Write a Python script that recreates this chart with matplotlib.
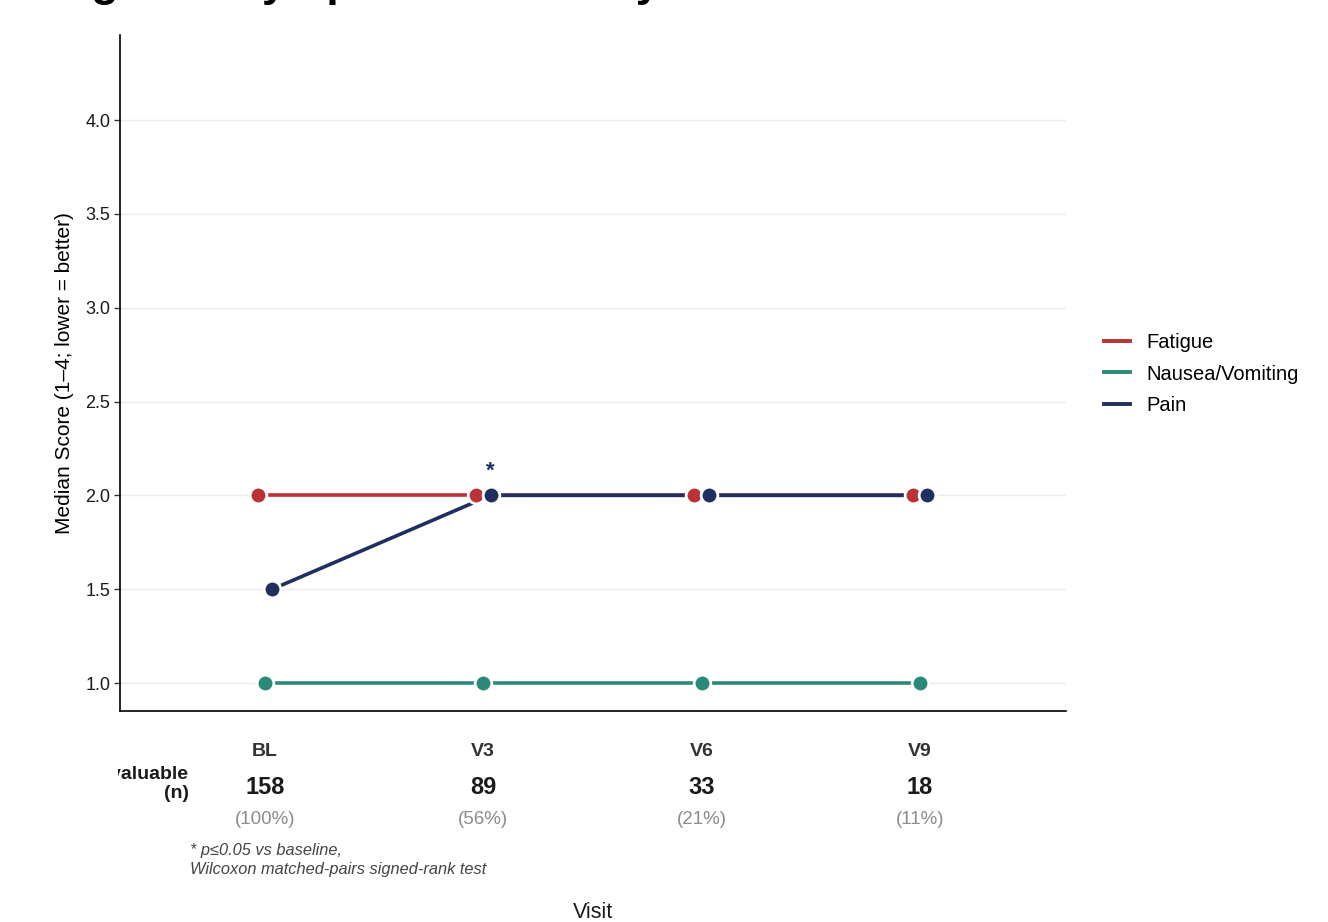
import matplotlib
matplotlib.use("Agg")
import matplotlib.pyplot as plt
from matplotlib.lines import Line2D
from matplotlib.transforms import Bbox
import numpy as np

plt.rcParams['font.family'] = ['Liberation Sans', 'DejaVu Sans']

# Data
visits = ["BL", "V3", "V6", "V9"]
fatigue = [2.0, 2.0, 2.0, 2.0]
nausea = [1.0, 1.0, 1.0, 1.0]
pain = [1.5, 2.0, 2.0, 2.0]
evaluable_n = [158, 89, 33, 18]
significant_pain = ["V3"]

series_names = ["Fatigue", "Nausea/Vomiting", "Pain"]
series_values = [fatigue, nausea, pain]
series_colors = ["#B93236", "#2B8A77", "#1F2F5F"]

W, H = 1328, 922
fig = plt.figure(figsize=(W / 100, H / 100), dpi=100)
ax = fig.add_axes([120 / W, 1 - 711 / H, (1066 - 120) / W, (711 - 35) / H])
panel_h = 711 - 35

x = np.arange(len(visits))
dodge = 0.1
offsets = [(i - (len(series_names) - 1) / 2) * dodge / 3 for i in range(len(series_names))]

# lines first, then points on top
for vals, col, off in zip(series_values, series_colors, offsets):
    ax.plot(x + off, vals, color=col, lw=2.6, zorder=2, solid_capstyle='butt')
for vals, col, off in zip(series_values, series_colors, offsets):
    ax.plot(x + off, vals, ls='none', marker='o', ms=12, mfc=col, mec='white',
            mew=2.0, zorder=3)

# significance markers on Pain
pain_off = offsets[2]
for v in significant_pain:
    i = visits.index(v)
    ax.annotate("*", (x[i] + pain_off, pain[i]), xytext=(0, 10),
                textcoords='offset points', ha='center', va='bottom',
                fontsize=16, fontweight='bold', color=series_colors[2])

ax.set_xlim(-0.664, 3.669)
ax.set_ylim(0.851, 4.453)
yt = [1.0, 1.5, 2.0, 2.5, 3.0, 3.5, 4.0]
ax.set_yticks(yt)
ax.set_yticklabels([f"{t:.1f}" for t in yt])
ax.set_xticks([])
ax.yaxis.grid(True, color="#EBEBEB", lw=1.0, zorder=0)
ax.set_axisbelow(True)
for s in ["top", "right"]:
    ax.spines[s].set_visible(False)
for s in ["left", "bottom"]:
    ax.spines[s].set_linewidth(1.2)
    ax.spines[s].set_color("black")
ax.tick_params(axis='y', length=4, width=1.0, color="#333333", labelsize=13,
               labelcolor="#1a1a1a", pad=3)
ax.set_ylabel("Median Score (1\u20134; lower = better)", fontsize=15, labelpad=8)

# Table of evaluable patients under the axis
trans = ax.get_xaxis_transform()
for i, (v, n) in enumerate(zip(visits, evaluable_n)):
    ax.text(x[i], -(751 - 711) / panel_h, v, transform=trans, ha='center',
            va='center', fontsize=14, fontweight='bold', color="#333333")
    ax.text(x[i], -(787 - 711) / panel_h, f"{n}", transform=trans,
            ha='center', va='center', fontsize=17, fontweight='bold', color="#1a1a1a")
    pct = round(100 * n / evaluable_n[0])
    ax.text(x[i], -(820 - 711) / panel_h, f"({pct}%)", transform=trans,
            ha='center', va='center', fontsize=13.5, color="#8C8C8C")

# row label, clipped to the table region that starts at the panel's left edge
row_label = fig.text(189 / W, 1 - 784 / H, "Evaluable\n(n)", ha='right', va='center',
                     fontsize=14, fontweight='bold', color="#1a1a1a", linespacing=1.2)
row_label.set_clip_box(Bbox.from_extents(118, 0, W, H))
row_label.set_clip_on(True)

fig.text(190 / W, 1 - 860 / H,
         "* p\u22640.05 vs baseline,\nWilcoxon matched-pairs signed-rank test",
         ha='left', va='center', fontsize=11.8, style='italic', color="#444444",
         linespacing=1.3)

fig.text(593 / W, 1 - 912 / H, "Visit", ha='center', va='center', fontsize=15.5,
         color="#1a1a1a")

# Title
fig.text(-20 / W, 1 + 4 / H, "Changes in Symptom Scores by Visit", ha='left',
         va='baseline', fontsize=32, fontweight='bold', color="black")

# Legend
handles = [Line2D([0], [0], color=c, lw=2.8) for c in series_colors]
fig.legend(handles, series_names, loc='center left',
           bbox_to_anchor=(1104 / W, 1 - 374 / H), frameon=False, fontsize=14.5,
           handlelength=1.3, handletextpad=0.8, labelspacing=0.62,
           borderpad=0, borderaxespad=0)

fig.savefig("out.png", dpi=100)
